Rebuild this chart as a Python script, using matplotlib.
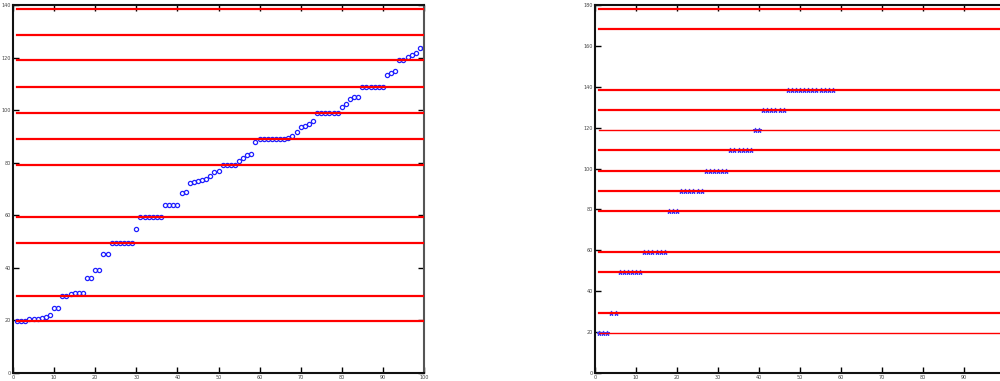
import matplotlib
matplotlib.use("Agg")
import matplotlib.pyplot as plt
import numpy as np

# ---- data ----
left_x = list(range(1, 101))
left_y = [19.6, 19.6, 19.6, 20.4, 20.6, 20.7, 20.9, 21.3, 22.0, 24.8,
          24.8, 29.4, 29.4, 30.2, 30.3, 30.3, 30.4, 36.2, 36.2, 39.3,
          39.3, 45.1, 45.1, 49.4, 49.4, 49.4, 49.4, 49.4, 49.4, 54.9,
          59.2, 59.2, 59.2, 59.2, 59.2, 59.2, 64.0, 64.0, 64.0, 64.0,
          68.6, 68.8, 72.1, 72.6, 73.0, 73.4, 73.9, 74.8, 76.5, 77.0,
          79.1, 79.1, 79.1, 79.1, 80.6, 81.9, 82.9, 83.4, 87.7, 89.0,
          89.0, 89.0, 89.0, 89.0, 89.0, 89.0, 89.5, 90.2, 91.7, 93.4,
          94.0, 94.7, 95.9, 99.0, 99.0, 99.0, 99.0, 99.0, 99.0, 101.3,
          102.4, 104.4, 104.9, 105.1, 108.9, 108.9, 108.9, 108.9, 108.9, 108.9,
          113.2, 114.3, 114.7, 118.9, 118.9, 120.1, 121.0, 121.7, 123.7, 123.8]
left_levels = [19.6, 29.4, 49.4, 59.2, 79.1, 89.0, 99.0, 108.9, 118.9, 128.5, 138.3]

right_x = list(range(1, 59))
right_y = ([19.6] * 3 + [29.4] * 2 + [49.4] * 6 + [59.2] * 6 + [79.3] * 3 +
           [89.0] * 6 + [98.9] * 6 + [109.0] * 6 + [118.9] * 2 + [128.7] * 6 +
           [138.5] * 12)
right_levels = [19.6, 29.4, 49.4, 59.2, 79.3, 89.0, 98.9, 109.0, 118.9,
                128.7, 138.5, 168.3, 178.1]
thin_levels = [19.6, 118.9]

xticks = list(range(0, 101, 10))
left_xticklabels = [str(v) for v in xticks]
right_xticklabels = [str(v) for v in xticks[:-1]] + ['']
left_yticks = list(range(0, 141, 20))
right_yticks = list(range(0, 181, 20))

fig = plt.figure(figsize=(10, 3.81), dpi=100)
axL = fig.add_axes([0.013, 0.021, 0.411, 0.966])
axR = fig.add_axes([0.595, 0.021, 0.41, 0.966])


def style(ax, yt, ymax, xlabels, right_ticks=True):
    ax.set_xlim(0, 100)
    ax.set_ylim(0, ymax)
    ax.set_xticks(xticks)
    ax.set_xticklabels(xlabels)
    ax.set_yticks(yt)
    ax.tick_params(direction='in', length=4, width=1, labelsize=3.5,
                   labelcolor='#444444', top=True, right=right_ticks, pad=1.5)
    for s in ['left', 'bottom', 'top']:
        ax.spines[s].set_linewidth(1.5)
        ax.spines[s].set_color('#111111')
    ax.spines['right'].set_linewidth(1.5)
    ax.spines['right'].set_color('#555555')


axL.plot(left_x, left_y, 'o', ls='none', mfc='none', mec='#1f1fff',
         ms=3, mew=0.9, zorder=2)
for lv in left_levels:
    axL.axhline(lv, xmin=0.01, xmax=1, color='#ff0000', lw=1.6, zorder=3)
style(axL, left_yticks, 140, left_xticklabels)

axR.plot(right_x, right_y, '*', ls='none', color='#3a3aff', ms=3.5,
         mew=0.8, zorder=2)
for lv in right_levels:
    lw = 1.0 if lv in thin_levels else 1.6
    axR.axhline(lv, xmin=0.01, xmax=1, color='#ff0000', lw=lw, zorder=3)
style(axR, right_yticks, 180, right_xticklabels, right_ticks=False)

fig.savefig('out.png', dpi=100)
